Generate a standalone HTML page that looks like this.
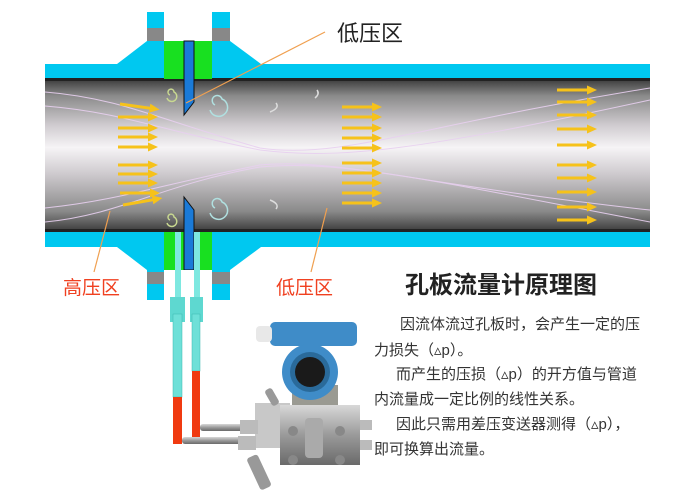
<!DOCTYPE html>
<html><head><meta charset="utf-8"><style>
body{margin:0;background:#fff;}
svg{display:block}
.t{font-family:"Liberation Sans","Noto Sans CJK SC",sans-serif;}
</style></head><body>
<svg width="700" height="500" viewBox="0 0 700 500" xmlns="http://www.w3.org/2000/svg">
<defs>
<linearGradient id="g" x1="0" y1="0" x2="0" y2="1">
<stop offset="0" stop-color="#444"/>
<stop offset="0.1" stop-color="#8a8a8a"/>
<stop offset="0.3" stop-color="#d0ccd0"/>
<stop offset="0.45" stop-color="#f6f4f6"/>
<stop offset="0.62" stop-color="#d0ccd0"/>
<stop offset="0.88" stop-color="#8a8a8a"/>
<stop offset="1" stop-color="#444"/>
</linearGradient>
<linearGradient id="steel" x1="0" y1="0" x2="0" y2="1">
<stop offset="0" stop-color="#d8d8d8"/><stop offset="0.5" stop-color="#9a9a9a"/><stop offset="1" stop-color="#6a6a6a"/>
</linearGradient>
<g id="ar"><path d="M0,-1.5 L30,-1.5 L30,-4.5 L40,0 L30,4.5 L30,1.5 L0,1.5Z" fill="#f6c21a"/></g>
</defs>
<rect x="45" y="64" width="605" height="183" fill="#00c8f0"/>
<rect x="45" y="78" width="605" height="3" fill="#222"/>
<rect x="45" y="229" width="605" height="3" fill="#222"/>
<rect x="45" y="81" width="605" height="148" fill="url(#g)"/>
<path d="M147,12 H164 V41 H212 V12 H230 V41 L261,64 H117 L147,41Z" fill="#00c8f0"/>
<rect x="147" y="28" width="17" height="13" fill="#888"/>
<rect x="212" y="28" width="18" height="13" fill="#888"/>
<rect x="164" y="41" width="20" height="38" fill="#18e020"/>
<rect x="194" y="41" width="18" height="38" fill="#18e020"/>
<path d="M184,41 H194 V102 L184,115Z" fill="#1a7ad8" stroke="#111" stroke-width="1"/>
<path d="M147,300 H164 V270 H212 V300 H230 V270 L261,247 H117 L147,270Z" fill="#00c8f0"/>
<rect x="147" y="272" width="17" height="12" fill="#888"/>
<rect x="212" y="272" width="18" height="12" fill="#888"/>
<rect x="164" y="232" width="20" height="38" fill="#18e020"/>
<rect x="194" y="232" width="18" height="38" fill="#18e020"/>
<path d="M184,270 H194 V210 L184,197Z" fill="#1a7ad8" stroke="#111" stroke-width="1"/>
<rect x="164" y="270" width="48" height="30" fill="#fff"/>
<g fill="none" stroke="#e8d0f0" stroke-width="1" opacity="0.9">
<path d="M45,92 C120,98 160,120 260,148 C340,160 420,125 650,88"/>
<path d="M45,106 C120,112 160,130 260,150 C340,160 420,150 650,100"/>
<path d="M45,222 C120,215 160,185 260,167 C340,160 420,178 650,222"/>
<path d="M45,208 C120,200 160,185 260,165 C340,158 420,185 650,210"/>
</g>
<g fill="none" stroke="#b0e0e0" stroke-width="1.5">
<path d="M215,105 a5,5 0 1,1 7,-6 a9,9 0 1,1 -12,11"/>
<path d="M215,208 a5,5 0 1,1 7,-6 a9,9 0 1,1 -12,11"/>
<path d="M170,95 a3,3 0 1,1 4,-3 a5,5 0 1,1 -7,6" stroke="#c8d890"/>
<path d="M170,220 a3,3 0 1,1 4,-3 a5,5 0 1,1 -7,6" stroke="#c8d890"/>
<path d="M270,112 q10,-4 6,-9" stroke="#ddd"/>
<path d="M270,200 q10,4 6,9" stroke="#ddd"/>
<path d="M315,98 q5,-4 2,-8" stroke="#ddd"/>
</g>
<g>
<use href="#ar" x="120" y="104" transform="rotate(8 120 104)"/>
<use href="#ar" x="118" y="117"/><use href="#ar" x="118" y="128"/>
<use href="#ar" x="118" y="137"/><use href="#ar" x="118" y="147"/>
<use href="#ar" x="118" y="165"/><use href="#ar" x="118" y="174"/>
<use href="#ar" x="118" y="183"/><use href="#ar" x="120" y="193"/>
<use href="#ar" x="123" y="205" transform="rotate(-10 123 205)"/>
<use href="#ar" x="342" y="107"/><use href="#ar" x="342" y="117"/>
<use href="#ar" x="342" y="128"/><use href="#ar" x="342" y="138"/>
<use href="#ar" x="342" y="148"/><use href="#ar" x="342" y="163"/>
<use href="#ar" x="342" y="173"/><use href="#ar" x="342" y="183"/>
<use href="#ar" x="342" y="193"/><use href="#ar" x="342" y="203"/>
<use href="#ar" x="557" y="90"/><use href="#ar" x="557" y="102"/>
<use href="#ar" x="557" y="115"/><use href="#ar" x="557" y="129"/>
<use href="#ar" x="557" y="145"/><use href="#ar" x="557" y="165"/>
<use href="#ar" x="557" y="178"/><use href="#ar" x="557" y="192"/>
<use href="#ar" x="557" y="207"/><use href="#ar" x="557" y="220"/>
</g>
<rect x="175" y="232" width="6" height="70" fill="#7ee8e0"/>
<rect x="194" y="232" width="6" height="70" fill="#7ee8e0"/>
<rect x="170" y="297" width="15" height="25" fill="#5ed8d0"/>
<rect x="190" y="297" width="13" height="25" fill="#5ed8d0"/>
<rect x="173" y="314" width="9" height="83" fill="#6ee0d8" stroke="#3ab8b0" stroke-width="0.5"/>
<rect x="192" y="314" width="8" height="57" fill="#6ee0d8" stroke="#3ab8b0" stroke-width="0.5"/>
<rect x="173" y="397" width="9" height="47" fill="#f03a10"/>
<rect x="192" y="371" width="8" height="66" fill="#f03a10"/>
<rect x="200" y="424" width="45" height="7" rx="3" fill="url(#steel)"/>
<rect x="182" y="437" width="60" height="7" rx="3" fill="url(#steel)"/>
<rect x="270" y="322" width="87" height="24" rx="5" fill="#3f8cc8"/>
<rect x="256" y="326" width="16" height="16" rx="4" fill="#e8e8e8"/>
<rect x="292" y="385" width="46" height="26" fill="#9a9a92"/>
<circle cx="310" cy="372" r="28" fill="#3f8cc8"/>
<circle cx="310" cy="372" r="20" fill="#2a6a9a"/>
<circle cx="310" cy="372" r="15" fill="#1a1a1a"/>
<rect x="255" y="403" width="35" height="45" fill="#c8c8c8"/>
<rect x="240" y="420" width="18" height="14" fill="#bbb"/>
<rect x="238" y="436" width="18" height="14" fill="#bbb"/>
<rect x="280" y="405" width="80" height="60" fill="url(#steel)"/>
<rect x="305" y="418" width="18" height="40" rx="4" fill="#aaa"/>
<circle cx="293" cy="431" r="5" fill="#888"/><circle cx="340" cy="431" r="5" fill="#888"/>
<circle cx="293" cy="460" r="5" fill="#888"/><circle cx="340" cy="460" r="5" fill="#888"/>
<rect x="360" y="420" width="12" height="10" fill="#bbb"/>
<rect x="360" y="440" width="12" height="10" fill="#bbb"/>
<rect x="252" y="455" width="12" height="35" rx="3" fill="#999" transform="rotate(-25 258 470)"/>
<rect x="268" y="388" width="8" height="18" rx="3" fill="#999" transform="rotate(-30 272 397)"/>
<g stroke="#f0a050" stroke-width="1.2" fill="none">
<line x1="325" y1="32" x2="186" y2="103"/>
<line x1="94" y1="272" x2="110" y2="211"/>
<line x1="311" y1="272" x2="327" y2="208"/>
</g>
<text class="t" x="337" y="41" font-size="22" fill="#222">低压区</text>
<text class="t" x="63" y="294" font-size="19" fill="#f04020">高压区</text>
<text class="t" x="276" y="294" font-size="19" fill="#f04020">低压区</text>
<text class="t" x="405" y="293" font-size="24" font-weight="bold" fill="#222">孔板流量计原理图</text>
<g class="t" font-size="15" fill="#333">
<text x="400" y="329">因流体流过孔板时，会产生一定的压</text>
<text x="374" y="355">力损失（▵p）。</text>
<text x="396" y="379">而产生的压损（▵p）的开方值与管道</text>
<text x="374" y="404">内流量成一定比例的线性关系。</text>
<text x="396" y="429">因此只需用差压变送器测得（▵p），</text>
<text x="374" y="454">即可换算出流量。</text>
</g>
</svg>
</body></html>
